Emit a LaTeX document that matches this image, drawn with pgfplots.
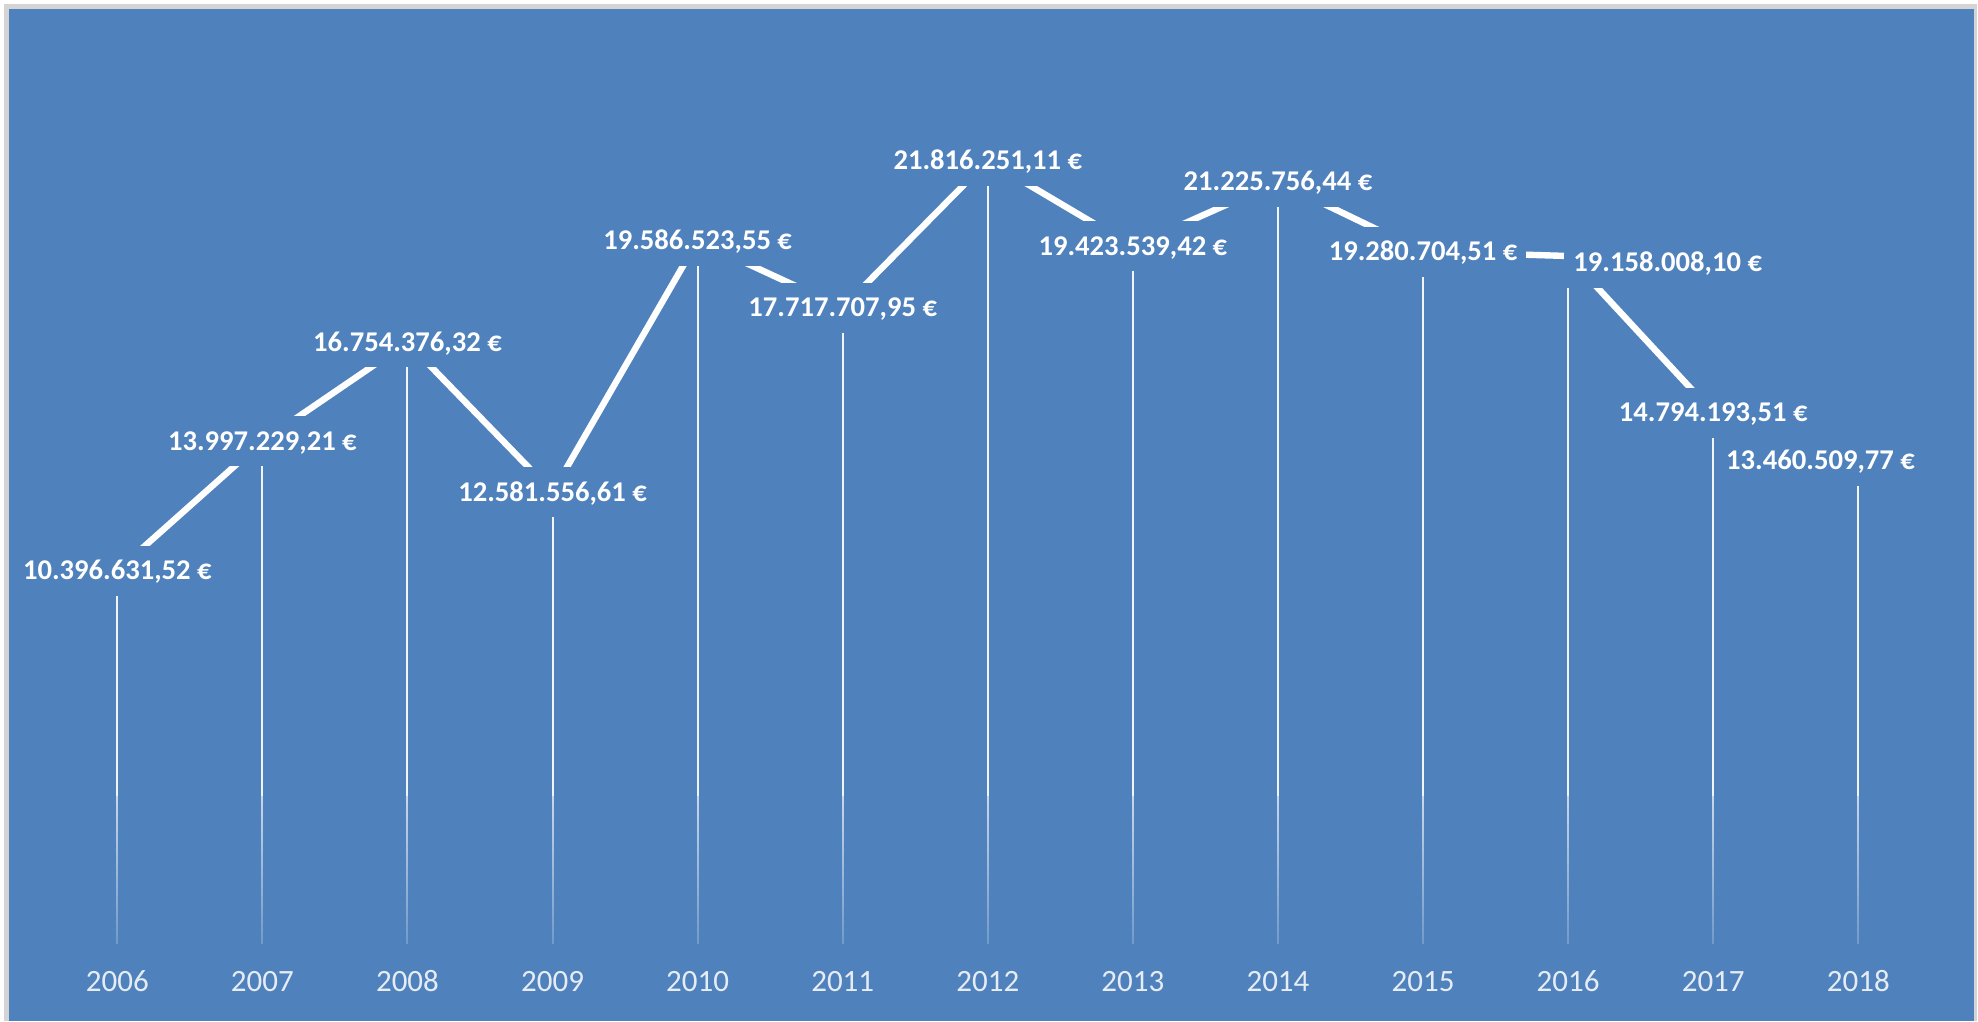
\documentclass[border=0pt]{standalone}
\usepackage{fontspec}
\setmainfont{Carlito}
\usepackage{pgfplots}
\usepackage{pgfplotstable}
\pgfplotsset{compat=1.18}
\usetikzlibrary{fadings}
\definecolor{bg}{HTML}{4F81BD}
\definecolor{framec}{HTML}{D4D4D4}
\definecolor{yr}{HTML}{E6ECF4}

\tikzfading[name=fadeup, top color=transparent!100, bottom color=transparent!0]

\pgfplotstableread[col sep=semicolon]{
x;y;lbl
0;10396631.52;10.396.631,52 €
1;13997229.21;13.997.229,21 €
2;16754376.32;16.754.376,32 €
3;12581556.61;12.581.556,61 €
4;19586523.55;19.586.523,55 €
5;17717707.95;17.717.707,95 €
6;21816251.11;21.816.251,11 €
7;19423539.42;19.423.539,42 €
8;21225756.44;21.225.756,44 €
9;19280704.51;19.280.704,51 €
10;19158008.10;19.158.008,10 €
11;14794193.51;14.794.193,51 €
12;13460509.77;13.460.509,77 €
}\datatable

\pgfplotsset{lblstyle/.style={draw=none, no markers, point meta=explicit symbolic,
  nodes near coords,
  every node near coord/.append style={anchor=center, fill=bg, text=white,
    font=\fontsize{14.3pt}{16pt}\selectfont\bfseries,
    inner xsep=4.5pt, inner ysep=8pt, text height=9pt, text depth=0pt}}}

\begin{document}
\begin{tikzpicture}
\fill[white] (0,0) rectangle (989pt,510.5pt);
\fill[framec] (2pt,0) rectangle (988.5pt,508.5pt);
\fill[bg] (4.5pt,0) rectangle (987pt,506pt);
\begin{axis}[
  at={(0,0)}, anchor=south west,
  scale only axis, width=989pt, height=510.5pt,
  xmin=-0.8085, xmax=12.825, ymin=-2156000, ymax=26284000,
  axis line style={draw=none}, major tick length=0pt, ytick=\empty,
  xtick={0,1,2,3,4,5,6,7,8,9,10,11,12},
  xticklabels={2006,2007,2008,2009,2010,2011,2012,2013,2014,2015,2016,2017,2018},
  xticklabel style={anchor=center, yshift=20pt, text=yr, font=\fontsize{15.5pt}{17pt}\selectfont},
  clip=false,
]
\addplot[ycomb, draw=white!92!bg, line width=1pt, no markers]
  table[x=x, y=y]{\datatable};
\addplot[draw=white, line width=3.2pt, no markers] table[x=x, y=y]{\datatable};
\addplot[lblstyle, skip coords between index={10}{11}, skip coords between index={12}{13}]
  table[x=x, y=y, meta=lbl]{\datatable};
\addplot[lblstyle, every node near coord/.append style={xshift=49.8pt, yshift=-3.3pt}]
  coordinates {(10,19158008.10) [19.158.008,10 €]};
\addplot[lblstyle, every node near coord/.append style={xshift=-18.9pt}]
  coordinates {(12,13460509.77) [13.460.509,77 €]};
\end{axis}
\begin{scope}
\clip (4.5pt,37pt) rectangle (987pt,112.5pt);
\fill[bg, path fading=fadeup] (4.5pt,8.25pt) rectangle (987pt,147.25pt);
\end{scope}
\end{tikzpicture}
\end{document}
